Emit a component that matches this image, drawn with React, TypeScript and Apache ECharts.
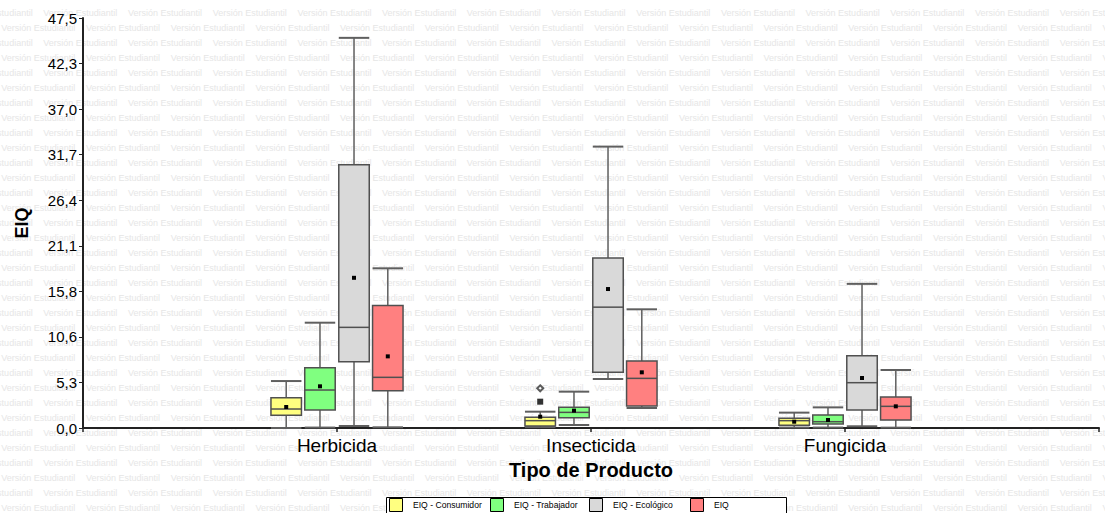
import React, { useEffect, useRef } from "react";
import * as echarts from "echarts";

// ---------- data ----------
const categories = ["Herbicida", "Insecticida", "Fungicida"];
const seriesNames = ["EIQ - Consumidor", "EIQ - Trabajador", "EIQ - Ecológico", "EIQ"];
const seriesColors = ["#FFFF80", "#80FF80", "#D9D9D9", "#FF8080"];
const yTickLabels = ["0,0", "5,3", "10,6", "15,8", "21,1", "26,4", "31,7", "37,0", "42,3", "47,5"];
const yMax = 47.5;

// [min, q1, median, q3, max, mean] per category
const consumidor = [
  [0.0, 1.47, 2.2, 3.51, 5.44, 2.43],
  [0.1, 0.23, 0.85, 1.24, 1.89, 1.31],
  [0.05, 0.31, 0.85, 1.12, 1.78, 0.73],
];
const trabajador = [
  [0.05, 2.09, 4.4, 6.99, 12.2, 4.83],
  [0.35, 1.18, 1.81, 2.41, 4.21, 2.01],
  [0.05, 0.46, 0.73, 1.51, 2.39, 0.93],
];
const ecologico = [
  [0.23, 7.68, 11.66, 30.5, 45.2, 17.4],
  [5.68, 6.45, 14.0, 19.7, 32.6, 16.1],
  [0.2, 2.09, 5.25, 8.38, 16.7, 5.79],
];
const eiq = [
  [0.08, 4.32, 5.87, 14.2, 18.5, 8.3],
  [2.32, 2.55, 5.75, 7.76, 13.75, 6.45],
  [0.04, 0.93, 2.51, 3.59, 6.72, 2.51],
];
// outliers of EIQ - Consumidor, Insecticida
const outlierSquare = [3.05];
const outlierCircle = [4.6];

const allSeries = [consumidor, trabajador, ecologico, eiq];

// ---------- layout ----------
const OFFSETS = [-0.2, -0.067, 0.067, 0.2];
const BOX_W = 0.12;
const FONT = "Arial, 'Liberation Sans', sans-serif";

function makeRender(offset: number, fill: string) {
  return (params: any, api: any) => {
    const x = api.value(0) + offset;
    const pMin = api.coord([x, api.value(1)]);
    const pQ1 = api.coord([x, api.value(2)]);
    const pMed = api.coord([x, api.value(3)]);
    const pQ3 = api.coord([x, api.value(4)]);
    const pMax = api.coord([x, api.value(5)]);
    const pMean = api.coord([x, api.value(6)]);
    const w = api.size([BOX_W, 0])[0];
    const cx = pMin[0];
    const h = w / 2;
    const wStyle = { stroke: "#5f5f5f", lineWidth: 1.5 };
    return {
      type: "group",
      children: [
        { type: "line", shape: { x1: cx, y1: pMax[1], x2: cx, y2: pQ3[1] }, style: wStyle },
        { type: "line", shape: { x1: cx, y1: pQ1[1], x2: cx, y2: pMin[1] }, style: wStyle },
        { type: "line", shape: { x1: cx - h, y1: pMax[1], x2: cx + h, y2: pMax[1] }, style: { stroke: "#5f5f5f", lineWidth: 2 } },
        { type: "line", shape: { x1: cx - h, y1: pMin[1], x2: cx + h, y2: pMin[1] }, style: { stroke: "#5f5f5f", lineWidth: 2 } },
        {
          type: "rect",
          shape: { x: cx - h, y: pQ3[1], width: w, height: pQ1[1] - pQ3[1] },
          style: { fill, stroke: "#505050", lineWidth: 1.5 },
        },
        { type: "line", shape: { x1: cx - h, y1: pMed[1], x2: cx + h, y2: pMed[1] }, style: { stroke: "#505050", lineWidth: 1.5 } },
        { type: "rect", shape: { x: cx - 2, y: pMean[1] - 2, width: 4, height: 4 }, style: { fill: "#000000" } },
      ],
    };
  };
}

function buildWatermark() {
  const els: any[] = [];
  const period = 84.7;
  for (let r = 0; r < 35; r++) {
    const y = 13.3 + r * 15;
    const start = r % 2 === 0 ? -41.4 : 1.3;
    for (let x = start; x < 1105; x += period) {
      els.push({
        type: "text",
        x,
        y,
        z: -10,
        silent: true,
        style: {
          text: "Versión Estudiantil",
          fill: "#e6e6e6",
          font: "9px " + FONT,
          verticalAlign: "middle",
          align: "left",
        },
      });
    }
  }
  return els;
}

function buildLegend() {
  const els: any[] = [];
  const swatchX = [389, 490, 589, 690];
  els.push({
    type: "rect",
    z: 50,
    shape: { x: 386.5, y: 497.5, width: 400, height: 22 },
    style: { fill: "#ffffff", stroke: "#000000", lineWidth: 1 },
  });
  seriesNames.forEach((name, i) => {
    els.push({
      type: "rect",
      z: 51,
      shape: { x: swatchX[i] + 0.5, y: 498.5, width: 13, height: 13 },
      style: { fill: seriesColors[i], stroke: "#000000", lineWidth: 1 },
    });
    els.push({
      type: "text",
      z: 51,
      x: swatchX[i] + 24,
      y: 505,
      style: {
        text: name,
        fill: "#000000",
        font: "8.6px " + FONT,
        verticalAlign: "middle",
      },
    });
  });
  return els;
}

export default function App() {
  const ref = useRef<HTMLDivElement>(null);
  useEffect(() => {
    if (!ref.current) return;
    const chart = echarts.init(ref.current, undefined, { renderer: "svg" });
    const step = yMax / 9;
    const series: any[] = allSeries.map((arr, si) => ({
      type: "custom",
      name: seriesNames[si],
      renderItem: makeRender(OFFSETS[si], seriesColors[si]),
      data: arr.map((v, ci) => [ci + 1, ...v]),
      encode: { x: 0, y: [1, 2, 3, 4, 5] },
      z: 5,
    }));
    series.push({
      type: "scatter",
      symbol: "rect",
      symbolSize: 6,
      itemStyle: { color: "#000000" },
      data: outlierSquare.map((v) => [2 + OFFSETS[0], v]),
      z: 6,
    });
    series.push({
      type: "scatter",
      symbol: "emptyDiamond",
      symbolSize: 6,
      itemStyle: { color: "#333333", borderWidth: 1 },
      data: outlierCircle.map((v) => [2 + OFFSETS[0], v]),
      z: 6,
    });
    chart.setOption({
      animation: false,
      backgroundColor: "#ffffff",
      grid: { left: 83, right: 6, top: 18, bottom: 85, containLabel: false },
      xAxis: {
        type: "value",
        min: 0,
        max: 4,
        interval: 1,
        name: "Tipo de Producto",
        nameLocation: "middle",
        nameGap: 32,
        nameTextStyle: { fontFamily: FONT, fontSize: 20, fontWeight: "bold", color: "#000" },
        axisLine: { lineStyle: { color: "#222", width: 2 } },
        axisTick: { show: true, length: 4, lineStyle: { color: "#222", width: 1.5 } },
        axisLabel: {
          margin: 8,
          fontFamily: FONT,
          fontSize: 19,
          color: "#000",
          formatter: (v: number) => categories[Math.round(v) - 1] ?? "",
        },
        splitLine: { show: false },
      },
      yAxis: {
        type: "value",
        min: 0,
        max: yMax,
        interval: step,
        name: "EIQ",
        nameLocation: "middle",
        nameGap: 52,
        nameRotate: 90,
        nameTextStyle: { fontFamily: FONT, fontSize: 18, fontWeight: "bold", color: "#000" },
        axisLine: { show: true, lineStyle: { color: "#222", width: 2 } },
        axisTick: { show: true, length: 4, lineStyle: { color: "#222", width: 1 } },
        axisLabel: {
          margin: 6,
          fontFamily: FONT,
          fontSize: 15,
          color: "#000",
          formatter: (v: number) => yTickLabels[Math.round(v / step)] ?? "",
        },
        splitLine: { show: false },
      },
      graphic: [...buildWatermark(), ...buildLegend()],
      series,
    });
    return () => chart.dispose();
  }, []);
  return (
    <div
      ref={ref}
      style={{ position: "fixed", left: 0, top: 0, width: 1105, height: 513 }}
    />
  );
}
